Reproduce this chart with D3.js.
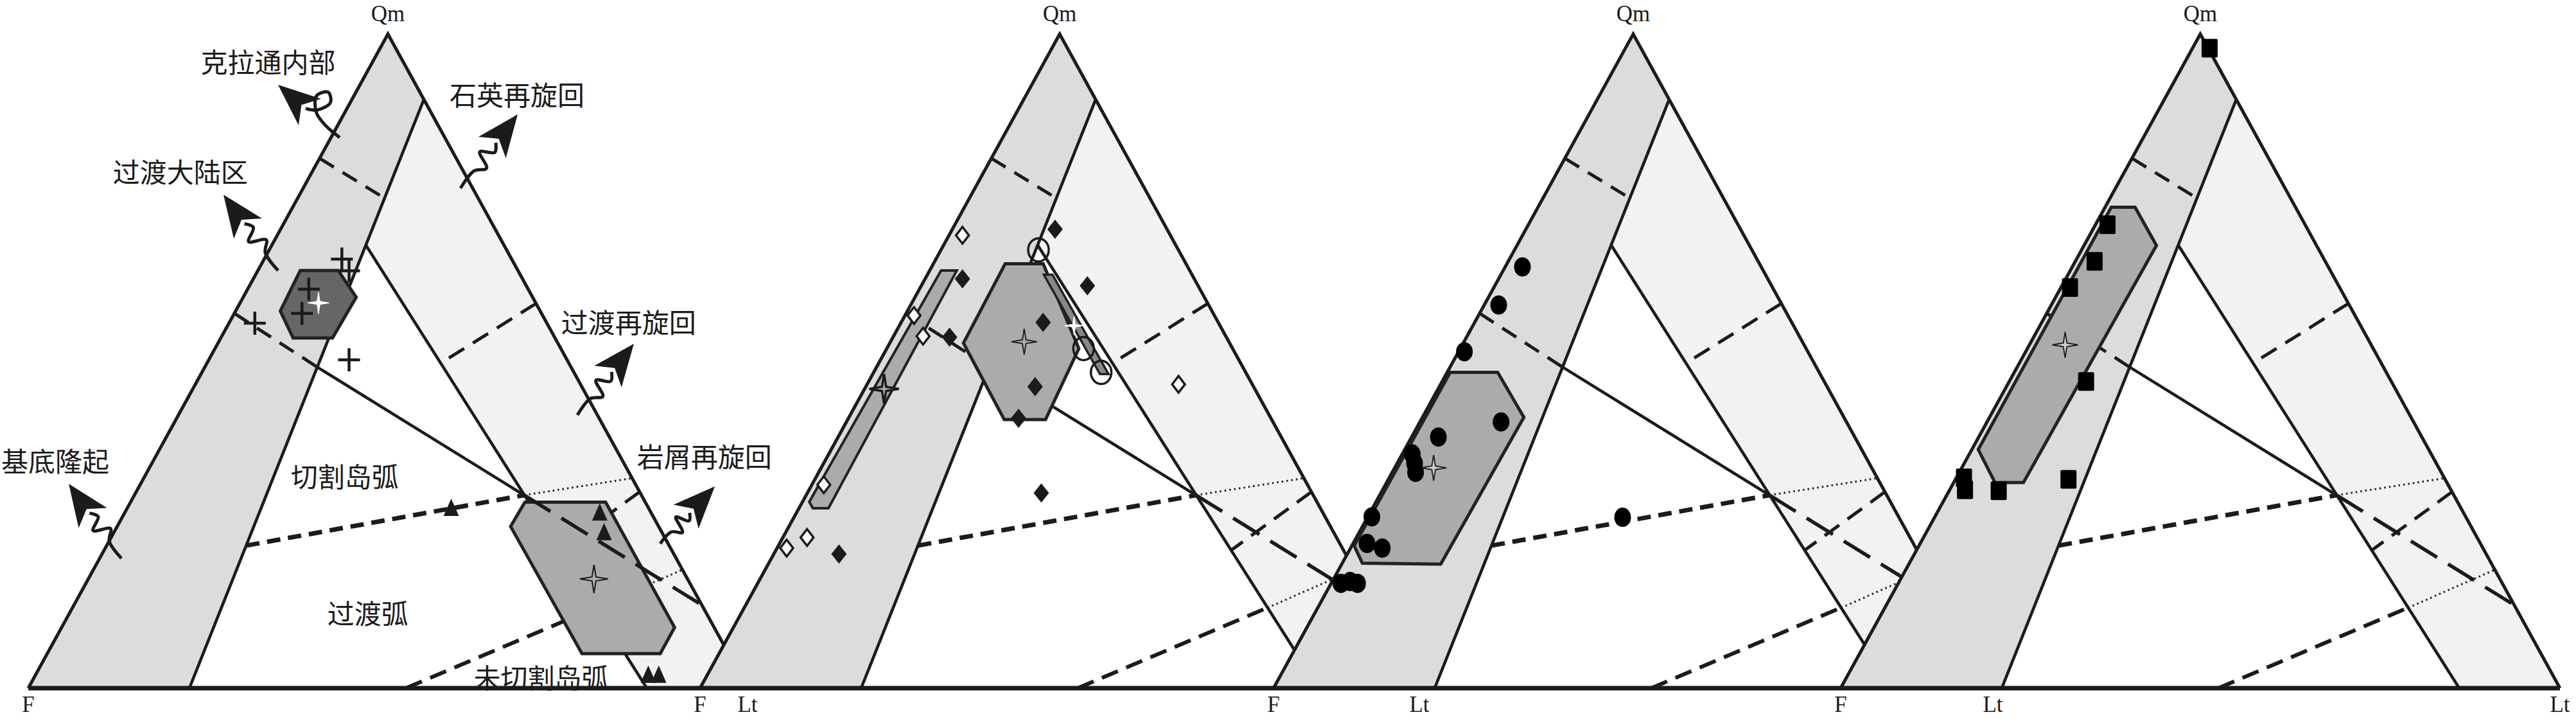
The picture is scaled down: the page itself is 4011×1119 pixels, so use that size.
<!DOCTYPE html>
<html><head><meta charset="utf-8">
<script src="https://cdn.jsdelivr.net/npm/d3@7"></script>
<style>html,body{margin:0;padding:0;background:#fff;}svg{display:block;}</style>
</head><body>
<svg id="chart" width="4011" height="1119"></svg>
<script>
// ================= DATA (ternary points given as [Qm, Lt]; F = 1 - Qm - Lt) =================
const vertexNames = { top: "Qm", left: "F", right: "Lt" };

// provenance field polygons / boundaries
const fieldContinental = [[1, 0], [0.9, 0.1], [0, 0.224], [0, 0]];
const fieldRecycled    = [[0.9, 0.1], [0, 1], [0, 0.86], [0.677, 0.131]];
const lineContinental  = [[0.9, 0.1], [0, 0.224]];
const lineRecycled     = [[0.677, 0.131], [0, 0.86]];
const lineArcSolid     = [[0.491, 0.156], [0.295, 0.542]];
const lineArcLongDash  = [[0.295, 0.542], [0.127, 0.873]];
const lineCratonDash   = [[0.81, 0], [0.749, 0.121]];
const lineBasementDash = [[0.573, 0], [0.491, 0.156]];
const lineArcUpperDash = [[0.218, 0.194], [0.295, 0.542]];
const lineArcUpperDot  = [[0.295, 0.542], [0.321, 0.679]];
const lineArcLowerDash = [[0, 0.525], [0.123, 0.7275]];
const lineArcLowerDot  = [[0.123, 0.7275], [0.181, 0.819]];
const lineQuartzDash   = [[0.588, 0.412], [0.497, 0.325]];
const lineLithicDash   = [[0.30, 0.70], [0.211, 0.633]];

// panel 1
const p1Plus = [[0.610, 0.085], [0.573, 0.094], [0.656, 0.108], [0.638, 0.127], [0.558, 0.036], [0.502, 0.195]];
const p1Triangles = [[0.274, 0.451], [0.267, 0.661], [0.237, 0.682], [0.019, 0.8525], [0.019, 0.867]];
const p1DarkHex = [[0.6385, 0.0589], [0.6385, 0.1117], [0.5977, 0.1571], [0.5354, 0.1553], [0.5354, 0.1005], [0.5766, 0.0621]];
const p1DarkHexMean = [0.589, 0.109];
const p1LightHex = [[0.2843, 0.5483], [0.2843, 0.6605], [0.0929, 0.8521], [0.0529, 0.8522], [0.0529, 0.7433], [0.2472, 0.547]];
const p1LightHexMean = [0.167, 0.703];
const fieldNames = ["克拉通内部", "石英再旋回", "过渡大陆区", "过渡再旋回", "基底隆起", "切割岛弧", "岩屑再旋回", "过渡弧", "未切割岛弧"];
const fieldNamePos = [[0.959, -0.146], [0.909, 0.225], [0.791, -0.184], [0.561, 0.554], [0.349, -0.137], [0.326, 0.277], [0.356, 0.762], [0.116, 0.414], [0.0177, 0.704]];
// arrows: [tail, tip, style]
const fieldArrows = [
  [[0.8418, 0.0121], [0.9224, -0.1139], "loop"],
  [[0.6385, 0.0281], [0.7544, -0.1058], "wave"],
  [[0.7642, 0.2188], [0.8772, 0.2418], "wave"],
  [[0.4175, 0.5547], [0.5265, 0.5787], "wave"],
  [[0.2210, 0.7681], [0.3084, 0.8003], "wave"],
  [[0.1984, 0.0303], [0.3124, -0.0999], "wave"]
];

// panel 2
const p2FilledDiamonds = [[0.7015, 0.1428], [0.6257, 0.052], [0.6152, 0.2309], [0.5591, 0.1974], [0.5367, 0.0786], [0.461, 0.2353], [0.4126, 0.2365], [0.2983, 0.3253], [0.2051, 0.0906]];
const p2OpenDiamonds = [[0.6923, 0.0187], [0.5697, 0.0126], [0.5381, 0.041], [0.3109, 0.0166], [0.2304, 0.0336], [0.2141, 0.0134], [0.4645, 0.433]];
const p2OpenCircles = [[0.670, 0.1355], [0.5192, 0.2736], [0.4827, 0.3163]];
const p2BigHex = [[0.6489, 0.0998], [0.6489, 0.1526], [0.5192, 0.267], [0.4105, 0.2751], [0.4105, 0.2177], [0.5276, 0.1024]];
const p2BigHexMean = [0.5297, 0.1858];
const p2ThinHex = [[0.6384, 0.0159], [0.6384, 0.0377], [0.2751, 0.041], [0.2751, 0.0193], [0.2849, 0.0094]];
const p2ThinHexMean = [0.4575, 0.0271];
const p2Bar = [[0.632, 0.162], [0.632, 0.174], [0.480, 0.328], [0.480, 0.316]];
const p2BarMean = [0.5542, 0.2429];

// panel 3
const p3Hex = [[0.4827, 0.0042], [0.4827, 0.0703], [0.414, 0.141], [0.1896, 0.1376], [0.1911, 0.0279], [0.2177, 0.0033]];
const p3HexMean = [0.3369, 0.0541];
const p3Circles = [[0.644, 0.024], [0.5858, 0.0201], [0.5143, 0.0082], [0.407, 0.1128], [0.3839, 0.0372], [0.358, 0.0138], [0.3439, 0.0241], [0.3299, 0.0325], [0.2619, 0.0057], [0.2212, 0.0194], [0.2141, 0.0441], [0.1602, 0.0136], [0.1602, 0.0367], [0.163, 0.025], [0.2612, 0.3547]];

// panel 4
const p4Hex = [[0.7352, 0.0086], [0.7352, 0.0417], [0.6769, 0.1006], [0.3144, 0.0969], [0.3144, 0.0573], [0.3649, 0.0089]];
const p4HexMean = [0.5248, 0.0497];
const p4Squares = [[0.9785, 0.0237], [0.7085, 0.0168], [0.6524, 0.0269], [0.6125, 0.0126], [0.4687, 0.1069], [0.3214, 0.0108], [0.3032, 0.0213], [0.3019, 0.0688], [0.3193, 0.1571]];

// ================= LAYOUT =================
const panelLeft = [44, 1090, 1983, 2866];
const panelWidth = 1120, baseY = 1071, apexY = 53;
const INK = "#1b1b1b";
const svg = d3.select("#chart");
const ys = d3.scaleLinear().domain([0, 1]).range([baseY, apexY]);
function makeProj(left) {
  const xs = d3.scaleLinear().domain([0, 1]).range([left, left + panelWidth]);
  return p => [xs(p[1] + p[0] / 2), ys(p[0])];
}
const lineGen = d3.line();

function starPath(r, ri) {
  const pts = [];
  for (let i = 0; i < 8; i++) {
    const a = -Math.PI / 2 + i * Math.PI / 4;
    const rr = i % 2 === 0 ? r : ri;
    pts.push([rr * Math.cos(a), rr * Math.sin(a)]);
  }
  return "M" + pts.map(p => p.join(",")).join("L") + "Z";
}

function drawArrow(g, P0, P1, style) {
  const dx = P1[0] - P0[0], dy = P1[1] - P0[1], L = Math.hypot(dx, dy);
  const u = [dx / L, dy / L];
  const n = [-u[1], u[0]];
  const Lh = 60, hw = 27;
  const B = [P1[0] - u[0] * Lh, P1[1] - u[1] * Lh];
  const Lt = L - Lh;
  const offs = style === "loop"
    ? [[0, 0], [0.45, 0], [0.8, 6], [1.05, 26], [0.9, 42], [0.7, 32], [0.82, 10], [1.05, 0]]
    : [[0, 0], [0.4, 0], [0.58, 13], [0.74, -11], [0.9, 8], [1.05, 0]];
  const pts = offs.map(([s, o]) => [P0[0] + u[0] * s * Lt + n[0] * o, P0[1] + u[1] * s * Lt + n[1] * o]);
  g.append("path").attr("d", d3.line().curve(d3.curveCatmullRom)(pts))
    .attr("fill", "none").attr("stroke", INK).attr("stroke-width", 5);
  const head = [P1,
    [B[0] + n[0] * hw - u[0] * 5, B[1] + n[1] * hw - u[1] * 5],
    [B[0] + u[0] * 12, B[1] + u[1] * 12],
    [B[0] - n[0] * hw - u[0] * 5, B[1] - n[1] * hw - u[1] * 5]];
  g.append("path").attr("d", lineGen(head) + "Z").attr("fill", INK);
}

function drawPanel(idx, cfg) {
  const proj = makeProj(panelLeft[idx]);
  const g = svg.append("g");
  const poly = pts => lineGen(pts.map(proj)) + "Z";
  const seg = (pts, w, dash) => g.append("path").attr("d", lineGen(pts.map(proj)))
    .attr("fill", "none").attr("stroke", INK).attr("stroke-width", w)
    .attr("stroke-dasharray", dash || null);

  g.append("path").attr("d", poly([[0, 0], [1, 0], [0, 1]])).attr("fill", "#fff");
  g.append("path").attr("d", poly(fieldContinental)).attr("fill", "#dcdcdc");
  g.append("path").attr("d", poly(fieldRecycled)).attr("fill", "#f2f2f2");

  seg(lineCratonDash, 5, "26,16");
  seg(lineBasementDash, 5, "26,16");
  seg(lineQuartzDash, 5, "28,16");
  seg(lineLithicDash, 5, "28,16");
  seg(lineArcUpperDash, 7, "21,12");
  seg(lineArcUpperDot, 3, "2.5,5");
  seg(lineArcLowerDash, 6, "27,14");
  seg(lineArcLowerDot, 3, "2.5,5");
  seg(lineContinental, 4.6);
  seg(lineRecycled, 4.6);
  seg(lineArcSolid, 4.6);
  seg([[0, 0], [1, 0], [0, 1]], 5);

  (cfg.hexes || []).forEach(h => {
    g.append("path").attr("d", poly(h.pts)).attr("fill", h.fill)
      .attr("stroke", "#222").attr("stroke-width", h.sw || 5).attr("stroke-linejoin", "miter");
  });
  seg(lineArcLongDash, 5.5, "48,20");
  if (cfg.after) cfg.after(g, proj);
  (cfg.stars || []).forEach(s => {
    const [x, y] = proj(s.p);
    g.append("path").attr("d", starPath(s.r, s.r * 0.2)).attr("transform", `translate(${x},${y})`)
      .attr("fill", s.fill).attr("stroke", s.stroke).attr("stroke-width", s.sw);
  });
  return { g, proj };
}

// ---------- Panel 1 ----------
drawPanel(0, {
  hexes: [{ pts: p1DarkHex, fill: "#666666" }, { pts: p1LightHex, fill: "#ababab" }],
  stars: [{ p: p1DarkHexMean, r: 17, fill: "#fff", stroke: "#fff", sw: 1 },
          { p: p1LightHexMean, r: 22, fill: "#ababab", stroke: INK, sw: 2 }],
  after: (g, proj) => {
    p1Plus.forEach(p => {
      const [x, y] = proj(p);
      g.append("path").attr("d", `M${x - 17},${y}H${x + 17}M${x},${y - 18}V${y + 18}`)
        .attr("stroke", INK).attr("stroke-width", 4.5);
    });
    p1Triangles.forEach(p => {
      const [x, y] = proj(p);
      g.append("path").attr("d", `M${x},${y - 16}L${x + 12},${y + 11}L${x - 12},${y + 11}Z`).attr("fill", INK);
    });
    fieldArrows.forEach(a => drawArrow(g, proj(a[0]), proj(a[1]), a[2]));
    fieldNames.forEach((t, i) => {
      const [x, y] = proj(fieldNamePos[i]);
      g.append("text").attr("x", x).attr("y", y).attr("text-anchor", "middle")
        .attr("dominant-baseline", "central")
        .attr("font-family", "'Noto Sans CJK SC', sans-serif").attr("font-size", 42)
        .attr("fill", INK).text(t);
    });
  }
});

// ---------- Panel 2 ----------
drawPanel(1, {
  hexes: [{ pts: p2BigHex, fill: "#ababab" }, { pts: p2ThinHex, fill: "#ababab", sw: 4 }, { pts: p2Bar, fill: "#888", sw: 3.5 }],
  stars: [{ p: p2BigHexMean, r: 20, fill: "#ababab", stroke: INK, sw: 1.8 },
          { p: p2ThinHexMean, r: 23, fill: "#ababab", stroke: INK, sw: 3.5 },
          { p: p2BarMean, r: 15, fill: "#fff", stroke: "#fff", sw: 1 }],
  after: (g, proj) => {
    p2OpenCircles.forEach(p => {
      const [x, y] = proj(p);
      g.append("ellipse").attr("cx", x).attr("cy", y).attr("rx", 16).attr("ry", 18)
        .attr("fill", "none").attr("stroke", INK).attr("stroke-width", 3.5);
    });
    p2FilledDiamonds.forEach(p => {
      const [x, y] = proj(p);
      g.append("path").attr("d", `M${x},${y - 15}L${x + 12},${y}L${x},${y + 15}L${x - 12},${y}Z`).attr("fill", INK);
    });
    p2OpenDiamonds.forEach(p => {
      const [x, y] = proj(p);
      g.append("path").attr("d", `M${x},${y - 13}L${x + 10},${y}L${x},${y + 13}L${x - 10},${y}Z`)
        .attr("fill", "#fff").attr("stroke", INK).attr("stroke-width", 3.5);
    });
  }
});

// ---------- Panel 3 ----------
drawPanel(2, {
  hexes: [{ pts: p3Hex, fill: "#ababab" }],
  after: (g, proj) => {
    p3Circles.forEach(p => {
      const [x, y] = proj(p);
      g.append("ellipse").attr("cx", x).attr("cy", y).attr("rx", 13).attr("ry", 15).attr("fill", "#000");
    });
  },
  stars: [{ p: p3HexMean, r: 20, fill: "#ccc", stroke: INK, sw: 1.8 }]
});

// ---------- Panel 4 ----------
drawPanel(3, {
  hexes: [{ pts: p4Hex, fill: "#ababab" }],
  after: (g, proj) => {
    p4Squares.forEach(p => {
      const [x, y] = proj(p);
      g.append("rect").attr("x", x - 12.5).attr("y", y - 14.5).attr("width", 25).attr("height", 29)
        .attr("rx", 2).attr("fill", "#000");
    });
  },
  stars: [{ p: p4HexMean, r: 20, fill: "#ccc", stroke: INK, sw: 1.8 }]
});

// ---------- common base line and vertex labels ----------
const projFirst = makeProj(panelLeft[0]), projLast = makeProj(panelLeft[3]);
svg.append("path").attr("d", lineGen([projFirst([0, 0]), projLast([0, 1])]))
  .attr("stroke", INK).attr("stroke-width", 7).attr("fill", "none");
panelLeft.forEach((left, i) => {
  const proj = makeProj(left);
  const lab = (p, t, y) => svg.append("text").attr("x", proj(p)[0]).attr("y", y)
    .attr("text-anchor", "middle").attr("font-family", "'Liberation Serif', serif")
    .attr("font-size", 35).attr("fill", INK).text(t);
  lab([1, 0], vertexNames.top, 33);
  lab([0, 0], vertexNames.left, 1108);
  lab([0, 1], vertexNames.right, 1108);
});
</script>
</body></html>
